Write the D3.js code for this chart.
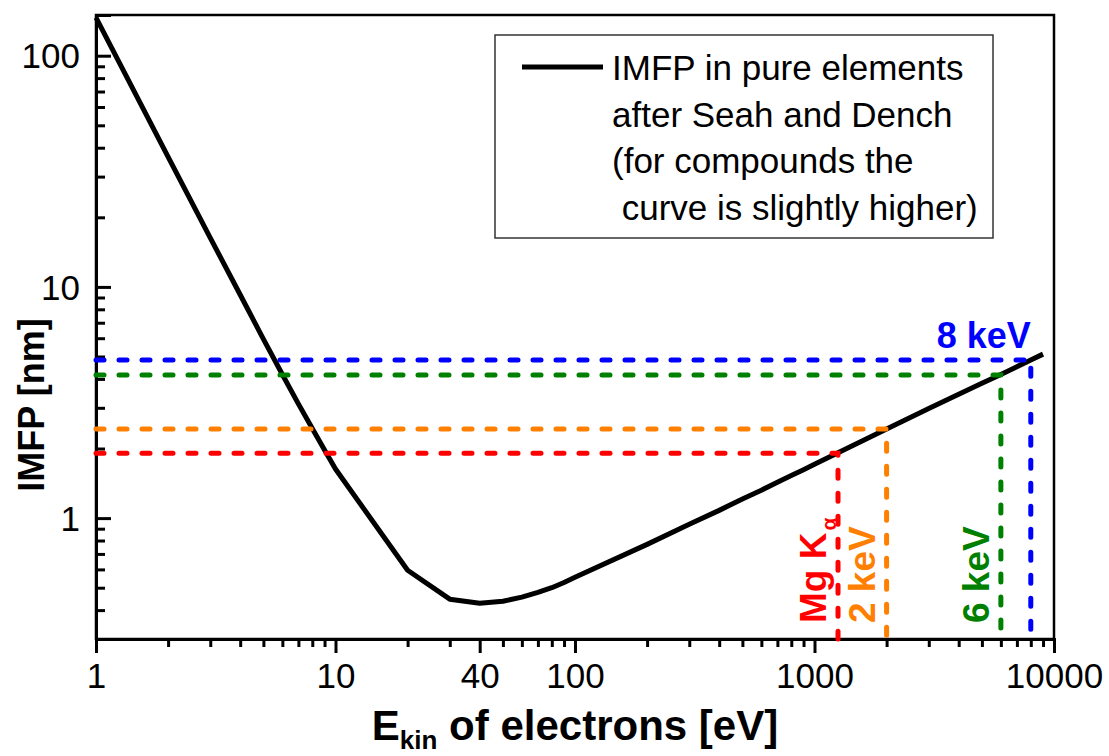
<!DOCTYPE html>
<html>
<head>
<meta charset="utf-8">
<script src="https://cdn.jsdelivr.net/npm/d3@7"></script>
<style>
  body { margin: 0; background: #fff; }
  svg { font-family: "Liberation Sans", Arial, sans-serif; }
</style>
</head>
<body>
<div id="chart"></div>
<script>
// IMFP curve
var energy = [1, 2, 3, 4, 5, 6, 7, 8, 9, 10,
  20, 30, 40, 50, 60, 70, 80, 90, 100,
  200, 300, 400, 500, 600, 700, 800, 900, 1000,
  2000, 3000, 4000, 5000, 6000, 7000, 8000, 9000];
var imfp = [146, 36.5, 16.3, 9.25, 5.95, 4.18, 3.12, 2.44, 1.97, 1.63,
  0.595, 0.446, 0.428, 0.437, 0.455, 0.477, 0.5, 0.527, 0.555,
  0.77, 0.94, 1.08, 1.21, 1.32, 1.43, 1.53, 1.62, 1.71,
  2.43, 2.98, 3.43, 3.83, 4.18, 4.52, 4.83, 5.12];

// reference energies
var refNames = ['Mg K', '2 keV', '6 keV', '8 keV'];
var refEnergy = [1253.6, 2000, 6000, 8000];
var refImfp = [1.91, 2.43, 4.16, 4.83];
var refColors = ['#ff0000', '#ff8000', '#008000', '#0000ff'];

var xTickValues = [1, 10, 40, 100, 1000, 10000];
var yTickValues = [1, 10, 100];
var legendLines = ['IMFP in pure elements', 'after Seah and Dench',
  '(for compounds the', '\u00a0curve is slightly higher)'];

(function() {
  var W = 1109, H = 756;
  var pl = 96, pr = 1054, pt = 15, pb = 639;

  var svg = d3.select('#chart').append('svg')
    .attr('width', W)
    .attr('height', H);

  var x = d3.scaleLog().domain([1, 10000]).range([pl, pr]);
  var y = d3.scaleLog().domain([0.3, 150]).range([pb, pt]);

  // minor ticks 2..9 of each decade
  var xMinor = [], yMinor = [];
  [1, 10, 100, 1000].forEach(function(d) {
    for (var k = 2; k < 10; k++) if (d * k != 40) xMinor.push(d * k);
  });
  [0.1, 1, 10, 100].forEach(function(d) {
    for (var k = 2; k < 10; k++) {
      var v = +(d * k).toPrecision(3);
      if (v >= 0.3 && v <= 150) yMinor.push(v);
    }
  });

  // frame
  svg.append('rect')
    .attr('x', pl).attr('y', pt)
    .attr('width', pr - pl).attr('height', pb - pt)
    .attr('fill', 'none').attr('stroke', '#000').attr('stroke-width', 2.5);

  // x axis
  var xAxis = svg.append('g').attr('transform', 'translate(0,' + pb + ')');
  xAxis.append('g')
    .call(d3.axisBottom(x).tickValues(xMinor).tickSize(8).tickFormat(''))
    .call(function(g) { g.select('.domain').remove(); })
    .selectAll('line').attr('stroke-width', 3);
  xAxis.append('g')
    .call(d3.axisBottom(x).tickValues(xTickValues).tickSize(14).tickPadding(10).tickFormat(d3.format('d')))
    .call(function(g) { g.select('.domain').attr('stroke-width', 3); })
    .call(function(g) { g.selectAll('line').attr('stroke-width', 3); })
    .selectAll('text')
    .attr('font-size', 35).attr('font-family', '"Liberation Sans", Arial, sans-serif').attr('fill', '#000');

  // y axis (ticks inward)
  var yAxis = svg.append('g').attr('transform', 'translate(' + pl + ',0)');
  yAxis.append('g')
    .call(d3.axisRight(y).tickValues(yMinor).tickSize(9).tickFormat(''))
    .call(function(g) { g.select('.domain').remove(); })
    .selectAll('line').attr('stroke-width', 3);
  yAxis.append('g')
    .call(d3.axisRight(y).tickValues(yTickValues).tickSize(15).tickFormat(''))
    .call(function(g) { g.select('.domain').attr('stroke-width', 3); })
    .selectAll('line').attr('stroke-width', 3);
  yAxis.selectAll('.ylab')
    .data(yTickValues)
    .enter().append('text')
    .attr('class', 'ylab')
    .attr('x', -16)
    .attr('y', function(d) { return y(d); })
    .attr('dy', '0.36em')
    .attr('text-anchor', 'end')
    .attr('font-size', 35)
    .text(function(d) { return d; });

  // curve
  var pts = energy.map(function(e, i) { return [e, imfp[i]]; });
  svg.append('path')
    .datum(pts)
    .attr('fill', 'none')
    .attr('stroke', '#000')
    .attr('stroke-width', 5)
    .attr('stroke-linejoin', 'round')
    .attr('d', d3.line().x(function(d) { return x(d[0]); }).y(function(d) { return y(d[1]); }));

  // dashed reference lines
  var refs = svg.append('g');
  refEnergy.forEach(function(e, i) {
    var px = x(e), py = y(refImfp[i]);
    refs.append('path')
      .attr('d', 'M' + pl + ',' + py + 'H' + px + 'V' + pb)
      .attr('fill', 'none')
      .attr('stroke', refColors[i])
      .attr('stroke-width', 5)
      .attr('stroke-linecap', 'round')
      .attr('stroke-dasharray', '8,15');
  });

  // rotated labels
  for (var i = 0; i < 3; i++) {
    var t = svg.append('text')
      .attr('transform', 'translate(' + (x(refEnergy[i]) - 12) + ',' + (pb - 16) + ') rotate(-90)')
      .attr('font-size', 37)
      .attr('font-weight', 'bold')
      .attr('fill', refColors[i])
      .text(refNames[i]);
    if (i == 0) {
      t.append('tspan')
        .attr('font-size', 21)
        .attr('dy', 10)
        .attr('dx', 2)
        .text('\u03b1');
    }
  }
  svg.append('text')
    .attr('x', x(refEnergy[3]))
    .attr('y', y(refImfp[3]) - 12)
    .attr('text-anchor', 'end')
    .attr('font-size', 36)
    .attr('font-weight', 'bold')
    .attr('fill', refColors[3])
    .text(refNames[3]);

  // legend
  var lg = svg.append('g');
  lg.append('rect')
    .attr('x', 495).attr('y', 35)
    .attr('width', 498).attr('height', 203)
    .attr('fill', '#fff').attr('stroke', '#333').attr('stroke-width', 1.5);
  lg.append('line')
    .attr('x1', 522).attr('x2', 603)
    .attr('y1', 67).attr('y2', 67)
    .attr('stroke', '#000').attr('stroke-width', 5);
  lg.selectAll('.lt')
    .data(legendLines)
    .enter().append('text')
    .attr('class', 'lt')
    .attr('x', 612)
    .attr('y', function(d, i) { return 80 + i * 46.5; })
    .attr('font-size', 35)
    .text(function(d) { return d; });

  // axis titles
  var xt = svg.append('text')
    .attr('x', (pl + pr) / 2)
    .attr('y', 740)
    .attr('text-anchor', 'middle')
    .attr('font-size', 42)
    .attr('font-weight', 'bold');
  xt.append('tspan').text('E');
  xt.append('tspan').attr('font-size', 26).attr('dy', 9).text('kin');
  xt.append('tspan').attr('dy', -9).text(' of electrons [eV]');

  svg.append('text')
    .attr('transform', 'translate(44,405) rotate(-90)')
    .attr('text-anchor', 'middle')
    .attr('font-size', 36)
    .attr('font-weight', 'bold')
    .text('IMFP [nm]');
})();
</script>
</body>
</html>
